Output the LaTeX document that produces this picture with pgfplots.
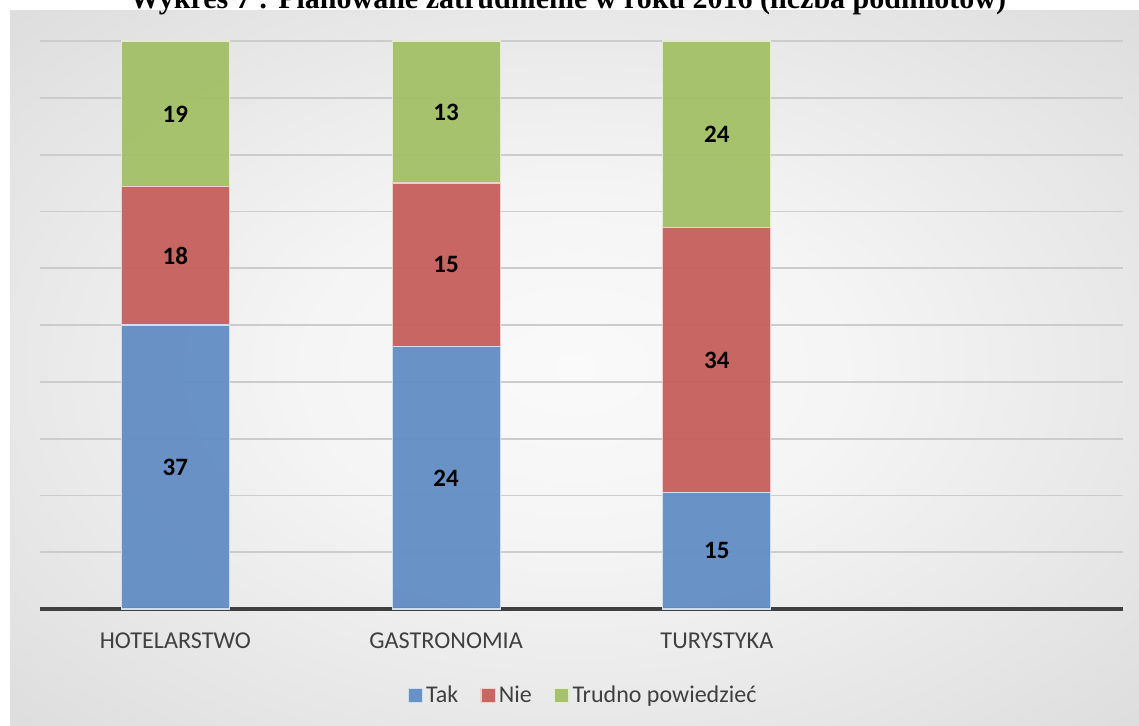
\documentclass[border=0pt]{standalone}
\usepackage{pgfplots}
\usepackage{pgfplotstable}
\pgfplotsset{compat=1.18}
\usepackage{fontspec}
\setmainfont{Carlito}
\newfontfamily\titlefont{Liberation Serif}
\definecolor{cTak}{HTML}{628DC4}
\definecolor{cNie}{HTML}{C65F5C}
\definecolor{cTrud}{HTML}{A3C067}
\definecolor{txt}{HTML}{404040}
\pgfdeclareradialshading{bgshade}{\pgfpoint{0bp}{0bp}}{color(0bp)=(white!98!black); color(12bp)=(white!96!black); color(35bp)=(white!87!black); color(50bp)=(white!80!black); color(71bp)=(white!74!black)}

\pgfplotstableread{
x tak nie trud
0 37 18 19
1 24 15 13
2 15 34 24
}\data

\begin{document}
\begin{tikzpicture}[x=1pt,y=1pt]
\useasboundingbox (0,0) rectangle (569.5,362.5);
\shade[shading=bgshade] (5,0) rectangle (569.5,357);
\node[font=\titlefont\bfseries\fontsize{15}{17}\selectfont, anchor=base, inner sep=0pt] at (284,358) {Wykres 7 : Planowane zatrudnienie w roku 2016 (liczba podmiotów)};
\begin{axis}[
  at={(20pt,58pt)}, anchor=south west,
  scale only axis, width=541.5pt, height=284pt,
  xmin=-0.5, xmax=3.5, ymin=0, ymax=100,
  clip=false,
  ybar stacked, bar width=54pt,
  axis line style={draw=none},
  major tick length=0pt,
  ytick={0,10,...,100}, yticklabels={},
  ymajorgrids, grid style={black!20, line width=0.9pt},
  xtick={0,1,2}, xticklabels={HOTELARSTWO,GASTRONOMIA,TURYSTYKA},
  xticklabel style={anchor=base, yshift=-19.5pt, font=\fontsize{12.1}{14}\selectfont, text=txt},
  legend style={at={(0.5,-0.152)}, anchor=center, xshift=1pt, draw=none, fill=none,
    font=\fontsize{12}{14}\selectfont, text=txt,
    /tikz/every odd column/.append style={column sep=0pt},
    /tikz/every even column/.append style={column sep=9.5pt},
    nodes={inner sep=1.5pt}},
  legend columns=3,
  legend image code/.code={\fill[#1] (0pt,-3.6pt) rectangle (7.2pt,3.6pt);},
]
\addplot[fill=cTak, draw=white!70!cTak, line width=0.6pt, fill opacity=0.95]
  table[x=x, y expr={\thisrow{tak}*100/(\thisrow{tak}+\thisrow{nie}+\thisrow{trud})}] {\data};
\addplot[fill=cNie, draw=white!70!cNie, line width=0.6pt, fill opacity=0.95]
  table[x=x, y expr={\thisrow{nie}*100/(\thisrow{tak}+\thisrow{nie}+\thisrow{trud})}] {\data};
\addplot[fill=cTrud, draw=white!70!cTrud, line width=0.6pt, fill opacity=0.95]
  table[x=x, y expr={\thisrow{trud}*100/(\thisrow{tak}+\thisrow{nie}+\thisrow{trud})}] {\data};
\legend{Tak,Nie,Trudno powiedzieć}
\draw[line width=2.1pt, color=txt] (axis cs:-0.5,0) -- (axis cs:3.5,0);
\end{axis}
\begin{axis}[
  at={(20pt,58pt)}, anchor=south west,
  scale only axis, width=541.5pt, height=284pt,
  xmin=-0.5, xmax=3.5, ymin=0, ymax=100,
  hide axis, clip=false,
  nodes near coords, point meta=explicit symbolic,
  every node near coord/.append style={anchor=center, font=\bfseries\fontsize{12.5}{14}\selectfont, text=black},
]
\addplot[only marks, mark=text, text mark={}]
  table[x=x, y expr={(\thisrow{tak}/2)*100/(\thisrow{tak}+\thisrow{nie}+\thisrow{trud})}, meta=tak] {\data};
\addplot[only marks, mark=text, text mark={}]
  table[x=x, y expr={(\thisrow{tak}+\thisrow{nie}/2)*100/(\thisrow{tak}+\thisrow{nie}+\thisrow{trud})}, meta=nie] {\data};
\addplot[only marks, mark=text, text mark={}]
  table[x=x, y expr={(\thisrow{tak}+\thisrow{nie}+\thisrow{trud}/2)*100/(\thisrow{tak}+\thisrow{nie}+\thisrow{trud})}, meta=trud] {\data};
\end{axis}
\end{tikzpicture}
\end{document}
